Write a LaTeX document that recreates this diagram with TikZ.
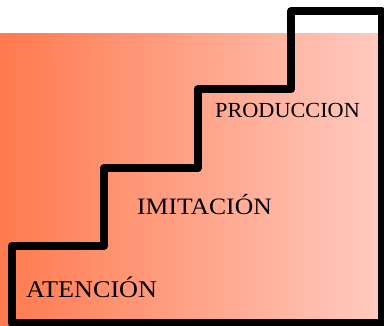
\documentclass[tikz,border=0pt]{standalone}
\usepackage{fontspec}
\setmainfont{Liberation Serif}
\definecolor{gradL}{RGB}{255,122,78}
\definecolor{gradR}{RGB}{255,202,192}
\tikzset{
  stairs/.style={draw=black, line width=8pt, line join=round, line cap=round},
  steplabel/.style={anchor=base west, inner sep=0pt, text=black}
}
\begin{document}
\begin{tikzpicture}[x=1pt,y=-1pt]
\useasboundingbox (0,0) rectangle (384,326);
\begin{scope}
\clip (0,0) rectangle (384,326);
\shade[left color=gradL, right color=gradR] (0,34) rectangle (381,326);
\draw[stairs] (11.5,323.5) -- (11.5,246) -- (104,246) -- (104,168.5) -- (197.5,168.5)
  -- (197.5,89.5) -- (291,89.5) -- (291,11) -- (381.5,11) -- (381.5,323.5) -- cycle;
\end{scope}
\node[steplabel, font=\fontsize{24}{28}\selectfont, xscale=1.09] (aten) at (26,298) {ATENCIÓN};
\node[steplabel, font=\fontsize{23.5}{28}\selectfont, xscale=1.09] (imit) at (137,215) {IMITACIÓN};
\node[steplabel, font=\fontsize{21.5}{26}\selectfont, xscale=1.035] (prod) at (215,118) {PRODUCCION};
\end{tikzpicture}
\end{document}
